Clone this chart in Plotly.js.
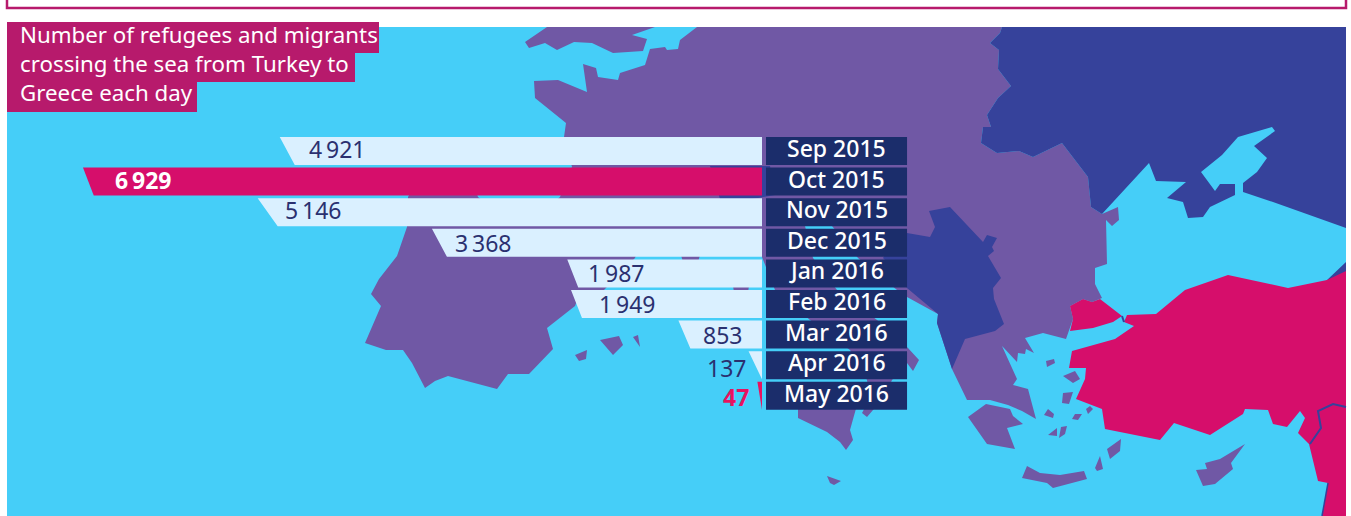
<!DOCTYPE html>
<html><head><meta charset="utf-8">
<script src="https://cdn.plot.ly/plotly-3.0.1.min.js"></script>
<style>html,body{margin:0;padding:0;background:#fff;overflow:hidden}</style></head>
<body><div id="chart" style="width:1351px;height:516px"></div>
<script>
// ---- chart data ----
const months = ['Sep 2015','Oct 2015','Nov 2015','Dec 2015','Jan 2016','Feb 2016','Mar 2016','Apr 2016','May 2016'];
const crossings = [4921,6929,5146,3368,1987,1949,853,137,47];
const valueLabels = ['4\u2009921','6\u2009929','5\u2009146','3\u2009368','1\u2009987','1\u2009949','853','137','47'];
const titleLines = ['Number of refugees and migrants','crossing the sea from Turkey to','Greece each day'];

// ---- styling of the marks ----
const tipCut = [153,110,204,153,112,112,122,137,47];          // slanted end, in data units
const labelDx = [57,60,55,51,49,56,44,-22,-21];               // px from bar end
const labelDy = [2,2,2,0,0,0,0,-3,-1];
const highlighted = [1];
const C = {sea:'#45CEF8',land:'#7058A5',dark:'#36429B',turkey:'#D60E6B',bar:'#DAF0FF',navy:'#1B2D6B',title:'#B71A6C',text:'#2A3070',hot:'#E8125F'};
const FONT = '"Noto Sans", sans-serif';

// ---- background map outlines (screen pixels) ----
const europe = [[697,27],[1002,27],[1000,33],[990,43],[999,50],[998,69],[1011,86],[998,98],[987,115],[991,127],[983,127],[981,143],[997,153],[1019,151],[1033,157],[1062,143],[1088,177],[1091,207],[1102,214],[1118,207],[1119,220],[1112,226],[1106,220],[1107,256],[1107,264],[1095,268],[1095,284],[1102,298],[1092,302],[1083,299],[1070,306],[1073,319],[1066,339],[1043,333],[1025,338],[1034,353],[1026,349],[1025,354],[1018,353],[1017,362],[1002,346],[1017,379],[1013,385],[1028,389],[1036,419],[1022,411],[1008,405],[990,400],[967,400],[952,369],[937,323],[938,314],[907,297],[897,290],[858,258],[832,226],[818,205],[805,226],[813,258],[837,290],[877,320],[908,348],[919,360],[913,371],[907,363],[892,380],[884,398],[873,410],[867,417],[862,413],[870,398],[867,380],[850,350],[810,320],[775,290],[760,252],[640,245],[635,258],[603,291],[578,298],[575,306],[547,328],[553,349],[529,374],[508,374],[497,389],[448,376],[435,381],[425,388],[412,363],[403,350],[386,350],[365,343],[381,306],[371,294],[379,279],[397,256],[407,227],[408,197],[420,175],[470,175],[478,197],[500,215],[540,215],[560,197],[572,167],[564,137],[566,123],[535,98],[534,81],[558,80],[587,92],[583,64],[596,68],[598,77],[618,80],[620,73],[645,65],[650,49],[665,47],[667,50],[678,49],[680,40]];
const britain = [[547,27],[525,42],[529,48],[545,43],[557,50],[574,42],[592,43],[613,53],[643,51],[647,39],[632,35],[655,27]];
const sicily = [[798,405],[857,405],[850,430],[853,440],[846,450],[840,442],[827,432],[798,418]];
const peloponnese = [[968,417],[986,404],[1010,409],[1013,416],[1023,424],[1007,428],[1015,449],[987,444]];
const crete = [[1027,466],[1040,473],[1060,475],[1084,471],[1087,479],[1053,488],[1047,483],[1022,478]];
const cyprus = [[1245,444],[1220,459],[1205,463],[1207,469],[1196,470],[1203,486],[1215,484],[1233,469],[1231,463]];
const islands = [
 [[1046,361],[1054,359],[1055,363],[1047,367]],[[1063,376],[1075,371],[1080,379],[1073,383]],
 [[1063,393],[1073,392],[1069,404],[1062,403]],[[1048,409],[1054,414],[1053,418],[1044,415]],
 [[1075,414],[1082,414],[1078,420],[1072,419]],[[1086,409],[1090,406],[1093,409],[1088,414]],
 [[1048,435],[1057,428],[1057,436]],[[1061,427],[1067,426],[1065,434],[1059,438]],
 [[1121,439],[1120,451],[1110,459],[1107,449]],[[1100,456],[1103,469],[1097,471],[1095,468]],
 [[575,355],[587,350],[586,359],[579,361]],[[600,340],[619,336],[623,345],[613,355]],
 [[633,337],[638,335],[640,347]],[[827,476],[841,481],[834,485],[830,483]],
 [[678,245],[703,245],[698,262],[683,262]],[[732,280],[750,280],[748,292],[734,292]]
];
const russia = [[1002,27],[1000,33],[990,43],[999,50],[998,69],[1011,86],[998,98],[987,115],[991,127],[983,127],[981,143],[997,153],[1019,151],[1033,157],[1062,143],[1088,177],[1091,207],[1102,214],[1149,163],[1156,181],[1186,182],[1167,198],[1183,202],[1188,218],[1203,217],[1210,207],[1235,195],[1235,184],[1220,184],[1215,191],[1201,172],[1222,155],[1238,137],[1272,127],[1275,131],[1254,146],[1267,158],[1257,172],[1243,183],[1243,192],[1273,202],[1346,228],[1346,27]];
const balkans = [[907,233],[930,237],[935,227],[929,211],[950,207],[983,242],[987,235],[997,238],[992,247],[994,251],[988,256],[1001,278],[993,288],[994,299],[1004,324],[995,331],[965,339],[952,369],[937,323],[938,314],[907,288],[900,275],[883,258],[895,240]];
const alps = [[710,166],[770,166],[775,195],[752,199],[720,199]];
const georgia = [[1326,281],[1346,262],[1346,275],[1330,283]];
const thrace = [[1070,306],[1083,299],[1092,302],[1100,299],[1122,316],[1113,322],[1093,328],[1070,331],[1073,319]];
const anatolia = [[1127,315],[1156,314],[1185,290],[1228,275],[1288,288],[1327,280],[1346,271],[1346,516],[1322,516],[1328,483],[1318,481],[1309,444],[1298,433],[1305,418],[1300,411],[1287,427],[1273,424],[1268,410],[1245,409],[1243,414],[1210,435],[1174,423],[1160,440],[1105,429],[1102,409],[1076,399],[1085,379],[1086,368],[1069,368],[1072,351],[1115,339],[1134,326],[1124,322]];
const syriaBorder = [[1346,407],[1333,404],[1318,411],[1321,428],[1310,444]];
const levantCoast = [[1328,483],[1322,516]];
const straitLine = [[1122,316],[1124,322]];

function area(polys, color){
  const x=[],y=[];
  polys.forEach(p=>{p.forEach(q=>{x.push(q[0]);y.push(q[1]);});x.push(p[0][0]);y.push(p[0][1]);x.push(null);y.push(null);});
  return {type:'scatter',mode:'lines',x,y,fill:'toself',fillcolor:color,line:{width:0,color:color},hoverinfo:'skip',showlegend:false,xaxis:'x',yaxis:'y'};
}
function stroke(p,color,w){
  return {type:'scatter',mode:'lines',x:p.map(q=>q[0]),y:p.map(q=>q[1]),line:{width:w,color:color},hoverinfo:'skip',showlegend:false,xaxis:'x',yaxis:'y'};
}
const mapTraces = [
  area([europe,britain,sicily,peloponnese,crete,cyprus].concat(islands),C.land),
  area([russia,balkans,alps,georgia],C.dark),
  area([thrace,anatolia],C.turkey),
  stroke(syriaBorder,C.dark,2), stroke(levantCoast,C.dark,1.5), stroke(straitLine,C.dark,2)
];

// ---- bars: slanted ends built from the values, on the data axes ----
const ROW = 14/30.6;
function barPolys(keep){
  const x=[],y=[];
  crossings.forEach((v,i)=>{
    if(!keep(i)) return;
    x.push(0,v,v-tipCut[i],0,0,null);
    y.push(i-ROW,i-ROW,i+ROW,i+ROW,i-ROW,null);
  });
  return {x,y};
}
const isHot = i=>highlighted.includes(i);
function barTrace(keep,color,name){
  const d=barPolys(keep);
  return {type:'scatter',mode:'lines',name,x:d.x,y:d.y,fill:'toself',fillcolor:color,line:{width:0,color},hoverinfo:'skip',showlegend:false,xaxis:'x2',yaxis:'y2'};
}
const boxBase = -41, boxLen = -1439;
const monthBoxes = {type:'bar',orientation:'h',y:months.map((m,i)=>i),base:boxBase,x:months.map(()=>boxLen),width:2*ROW,
  marker:{color:C.navy},hoverinfo:'skip',showlegend:false,xaxis:'x2',yaxis:'y2'};

const valueNotes = crossings.map((v,i)=>({
  xref:'x2',yref:'y2',x:v,y:i,xshift:labelDx[i],yshift:labelDy[i],showarrow:false,text:valueLabels[i],
  font:{family:FONT,size:23,color:(i===1)?'#fff':(i===8?C.hot:C.text),weight:(i===1||i===8)?700:400},
  xanchor:'center',yanchor:'middle'
}));
const monthNotes = months.map((m,i)=>({
  xref:'x2',yref:'y2',x:boxBase+boxLen/2,y:i,yshift:3,showarrow:false,text:m,
  font:{family:FONT,size:23,color:'#fff',weight:500},xanchor:'center',yanchor:'middle'
}));

const px = 0.098; // px per refugee
const layout = {
  width:1351,height:516,margin:{l:0,r:0,t:0,b:0,pad:0},paper_bgcolor:'#fff',plot_bgcolor:'#fff',showlegend:false,
  title:{text:titleLines.join('<br>'),x:20/1351,xref:'paper',xanchor:'left',y:1-43/516,yref:'paper',yanchor:'top',
         font:{family:FONT,size:22.3,color:'#fff',weight:400},pad:{t:0,b:0,l:0,r:0}},
  xaxis:{range:[0,1351],visible:false,fixedrange:true},
  yaxis:{range:[516,0],visible:false,fixedrange:true},
  xaxis2:{overlaying:'x',range:[762/px,-589/px],visible:false,fixedrange:true,anchor:'y2'},
  yaxis2:{overlaying:'y',range:[(516-151)/30.6,-151/30.6],visible:false,fixedrange:true,anchor:'x2'},
  shapes:[
    {type:'rect',layer:'below',xref:'x',yref:'y',x0:7,x1:1346,y0:27,y1:516,fillcolor:C.sea,line:{width:0}},
    {type:'rect',layer:'above',xref:'x',yref:'y',x0:7,x1:1346,y0:-6,y1:8,fillcolor:'rgba(0,0,0,0)',line:{width:2.5,color:C.title}},
    {type:'rect',layer:'above',xref:'x',yref:'y',x0:7,x1:379,y0:22,y1:53,fillcolor:C.title,line:{width:0}},
    {type:'rect',layer:'above',xref:'x',yref:'y',x0:7,x1:355,y0:53,y1:82,fillcolor:C.title,line:{width:0}},
    {type:'rect',layer:'above',xref:'x',yref:'y',x0:7,x1:197,y0:82,y1:112,fillcolor:C.title,line:{width:0}}
  ],
  annotations:valueNotes.concat(monthNotes)
};
const traces = mapTraces.concat([
  monthBoxes,
  barTrace(i=>!isHot(i)&&i!==8,C.bar,'Crossings per day'),
  barTrace(isHot,C.turkey,'Peak month'),
  barTrace(i=>i===8,C.hot,'Latest month')
]);
Plotly.newPlot('chart',traces,layout,{displayModeBar:false,staticPlot:true});
</script></body></html>
